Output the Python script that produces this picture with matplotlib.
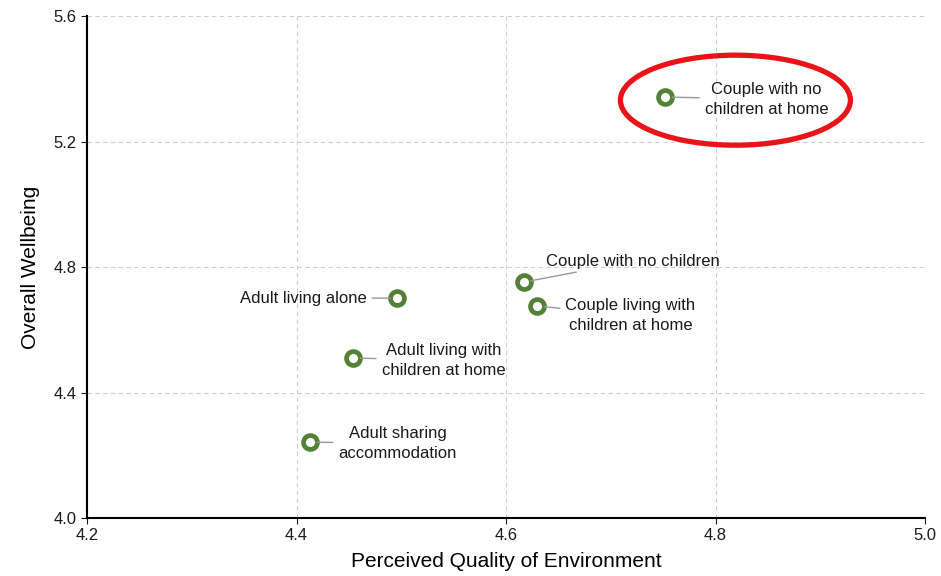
import matplotlib.pyplot as plt
from matplotlib.patches import Ellipse

plt.rcParams['font.family'] = ['Liberation Sans', 'DejaVu Sans']

labels = ['Couple with no\nchildren at home', 'Couple with no children',
          'Couple living with\nchildren at home', 'Adult living alone',
          'Adult living with\nchildren at home', 'Adult sharing\naccommodation']
environment = [4.752, 4.617, 4.630, 4.496, 4.454, 4.413]
wellbeing = [5.342, 4.752, 4.676, 4.701, 4.510, 4.242]

# label offsets (points) and alignment
offsets = [(73, -1.5), (16, 15), (67, -7), (-22, 0), (65, -1.5), (63, -1)]
aligns = ['center', 'left', 'center', 'right', 'center', 'center']

xticks = [4.2, 4.4, 4.6, 4.8, 5.0]
yticks = [4.0, 4.4, 4.8, 5.2, 5.6]

fig = plt.figure(figsize=(9.41, 5.76), dpi=100)
ax = fig.add_axes([0.0925, 0.1007, 0.8905, 0.8713])

ax.plot(environment, wellbeing, 'o', ms=10, mfc='white', mec='#538135',
        mew=3.4, ls='none', zorder=3)

for lab, x, y, off, ha in zip(labels, environment, wellbeing, offsets, aligns):
    ax.annotate(lab, (x, y), xytext=off, textcoords='offset points',
                ha=ha, va='center', fontsize=12, color='#1a1a1a',
                linespacing=1.4,
                arrowprops=dict(arrowstyle='-', color='#999999', lw=1,
                                shrinkA=2, shrinkB=5))

ax.add_patch(Ellipse((4.819, 5.332), 0.2196, 0.287, fill=False,
                     ec='#e8141a', lw=3.8, zorder=4))

ax.set_xlim(4.2, 5.0)
ax.set_ylim(4.0, 5.6)
ax.set_xticks(xticks)
ax.set_yticks(yticks)
ax.set_xticklabels([f'{v:.1f}' for v in xticks])
ax.set_yticklabels([f'{v:.1f}' for v in yticks])
ax.tick_params(labelsize=12, direction='out', length=4, colors='#1a1a1a')
ax.grid(True, ls=(0, (4, 3)), color='#cfcfcf', lw=0.8)
ax.set_axisbelow(True)
for s in ['top', 'right']:
    ax.spines[s].set_visible(False)
ax.spines['bottom'].set_linewidth(1.5)
ax.spines['left'].set_linewidth(1.5)

ax.set_xlabel('Perceived Quality of Environment', fontsize=15, labelpad=6)
ax.set_ylabel('Overall Wellbeing', fontsize=15, labelpad=10)

plt.savefig('out.png', dpi=100)
